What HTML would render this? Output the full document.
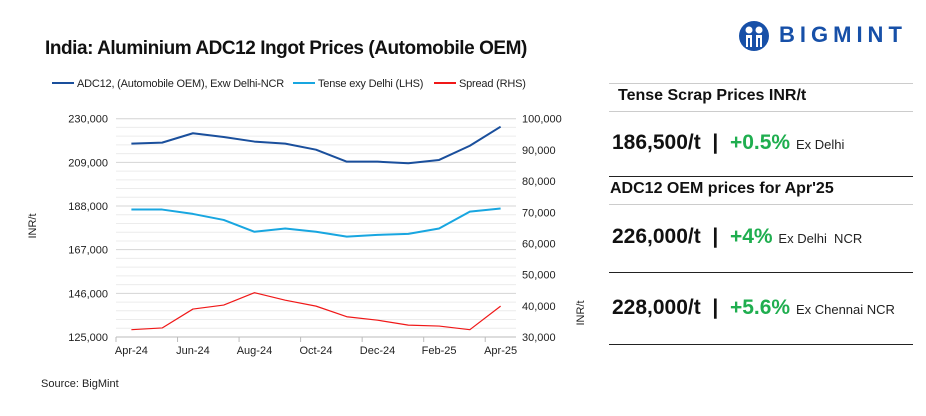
<!DOCTYPE html>
<html><head><meta charset="utf-8"><style>
body{margin:0;width:926px;height:416px;background:#fff;font-family:"Liberation Sans",sans-serif;overflow:hidden;position:relative}
.abs{position:absolute;white-space:nowrap}
.big{font-weight:bold;font-size:21px;color:#111}
.pct{color:#1fae4f;font-weight:bold;font-size:21px}
.sm{font-size:13px;color:#222;font-weight:normal}
.hl{position:absolute;left:609px;width:304px;height:0}
</style></head><body>
<div class="abs" style="left:45px;top:38px;font-size:19px;font-weight:bold;color:#111;letter-spacing:-0.45px">India: Aluminium ADC12 Ingot Prices (Automobile OEM)</div>
<svg class="abs" style="left:738px;top:20px" width="32" height="32" viewBox="0 0 32 32"><circle cx="16" cy="16" r="15" fill="#1750a8"/><circle cx="11" cy="10" r="3.5" fill="#fff"/><circle cx="21" cy="10" r="3.5" fill="#fff"/><path d="M8 15h6v12h-2v-9h-2v9H8zM18 15h6v12h-2v-9h-2v9h-2z" fill="#fff"/></svg>
<div class="abs" style="left:779px;top:22px;font-size:22px;font-weight:bold;color:#1750a8;letter-spacing:5px">BIGMINT</div>
<svg id="chart" class="abs" style="left:0;top:0" width="600" height="416"></svg>
<div class="abs" style="left:41px;top:378px;font-size:11px;color:#222">Source: BigMint</div>

<div class="hl" style="top:83px;border-top:1px solid #ccc"></div>
<div class="abs" style="left:618px;top:87px;font-size:16px;font-weight:bold;color:#111">Tense Scrap Prices INR/t</div>
<div class="hl" style="top:111px;border-top:1px solid #ccc"></div>
<div class="abs big" style="left:612px;top:131px">186,500/t &nbsp;|&nbsp; <span class="pct">+0.5%</span> <span class="sm">Ex Delhi</span></div>
<div class="hl" style="top:176px;border-top:1px solid #222"></div>
<div class="abs" style="left:610px;top:180px;font-size:16px;font-weight:bold;color:#111">ADC12 OEM prices for Apr'25</div>
<div class="hl" style="top:204px;border-top:1px solid #ccc"></div>
<div class="abs big" style="left:612px;top:225px">226,000/t &nbsp;|&nbsp; <span class="pct">+4%</span> <span class="sm">Ex Delhi&nbsp; NCR</span></div>
<div class="hl" style="top:272px;border-top:1px solid #222"></div>
<div class="abs big" style="left:612px;top:296px">228,000/t &nbsp;|&nbsp; <span class="pct">+5.6%</span> <span class="sm">Ex Chennai NCR</span></div>
<div class="hl" style="top:344px;border-top:1px solid #222"></div>

<script>
const categories=["Apr-24","May-24","Jun-24","Jul-24","Aug-24","Sep-24","Oct-24","Nov-24","Dec-24","Jan-25","Feb-25","Mar-25","Apr-25"];
const adc12=[218000,218500,223000,221200,219000,218000,215100,209350,209350,208550,210150,217000,226150];
const tense=[186300,186300,184200,181300,175600,177200,175600,173300,174100,174600,177200,185300,186800];
const spread=[32350,32900,38960,40240,44200,41800,39900,36500,35400,33800,33500,32350,39900];
const leftTicks=[125000,146000,167000,188000,209000,230000];
const rightTicks=[30000,40000,50000,60000,70000,80000,90000,100000];
const NS="http://www.w3.org/2000/svg";
const svg=document.getElementById('chart');
const X0=116,X1=516,Y0=337,Y1=118.7;
const bw=(X1-X0)/categories.length;
const xs=i=>X0+bw*(i+0.5);
const yl=v=>Y0-(v-125000)/105000*(Y0-Y1);
const yr=v=>Y0-(v-30000)/70000*(Y0-Y1);
function mk(t,a){const e=document.createElementNS(NS,t);for(const k in a)e.setAttribute(k,a[k]);svg.appendChild(e);return e;}
for(let v=125000;v<=230000;v+=4200){const g=mk('line',{x1:X0,x2:X1,y1:yl(v),y2:yl(v),stroke:(v-125000)%21000===0?'#d4d4d4':'#ececec','stroke-width':1});

}
mk('line',{x1:X0,x2:X1,y1:Y0,y2:Y0,stroke:'#bbb'});
leftTicks.forEach(v=>{const t=mk('text',{x:X0-8,y:yl(v)+4,'text-anchor':'end','font-size':11,fill:'#222','font-family':'Liberation Sans'});t.textContent=v.toLocaleString('en-US');

});
rightTicks.forEach(v=>{const t=mk('text',{x:X1+6,y:yr(v)+4,'font-size':11,fill:'#222','font-family':'Liberation Sans'});t.textContent=v.toLocaleString('en-US');

});
categories.forEach((c,i)=>{if(i%2===0){const tk=mk('line',{x1:X0+bw*i,x2:X0+bw*i,y1:Y0,y2:Y0+5,stroke:'#bbb'});


const t=mk('text',{x:xs(i),y:Y0+17,'text-anchor':'middle','font-size':11,fill:'#222','font-family':'Liberation Sans'});t.textContent=c;

}});
function line(d,f,col,w,name){const p=mk('polyline',{points:d.map((v,i)=>xs(i)+','+f(v)).join(' '),fill:'none',stroke:col,'stroke-width':w,'stroke-linejoin':'round'});

}
line(adc12,yl,'#1a4f9c',2,'adc12-line');
line(tense,yl,'#18a6e0',2,'tense-line');
line(spread,yr,'#f01818',1.2,'spread-line');
let a=mk('text',{transform:'translate(36,226) rotate(-90)','text-anchor':'middle','font-size':11,fill:'#222','font-family':'Liberation Sans'});a.textContent='INR/t';


a=mk('text',{transform:'translate(584,313) rotate(-90)','text-anchor':'middle','font-size':11,fill:'#222','font-family':'Liberation Sans'});a.textContent='INR/t';


[["ADC12, (Automobile OEM), Exw Delhi-NCR",'#1a4f9c',52],["Tense exy Delhi (LHS)",'#18a6e0',293],["Spread (RHS)",'#f01818',434]].forEach(l=>{
const g=mk('line',{x1:l[2],x2:l[2]+22,y1:83,y2:83,stroke:l[1],'stroke-width':2});


const t=mk('text',{x:l[2]+25,y:87,'font-size':11,fill:'#222','font-family':'Liberation Sans','letter-spacing':'-0.2'});t.textContent=l[0];

});
</script>
</body></html>
